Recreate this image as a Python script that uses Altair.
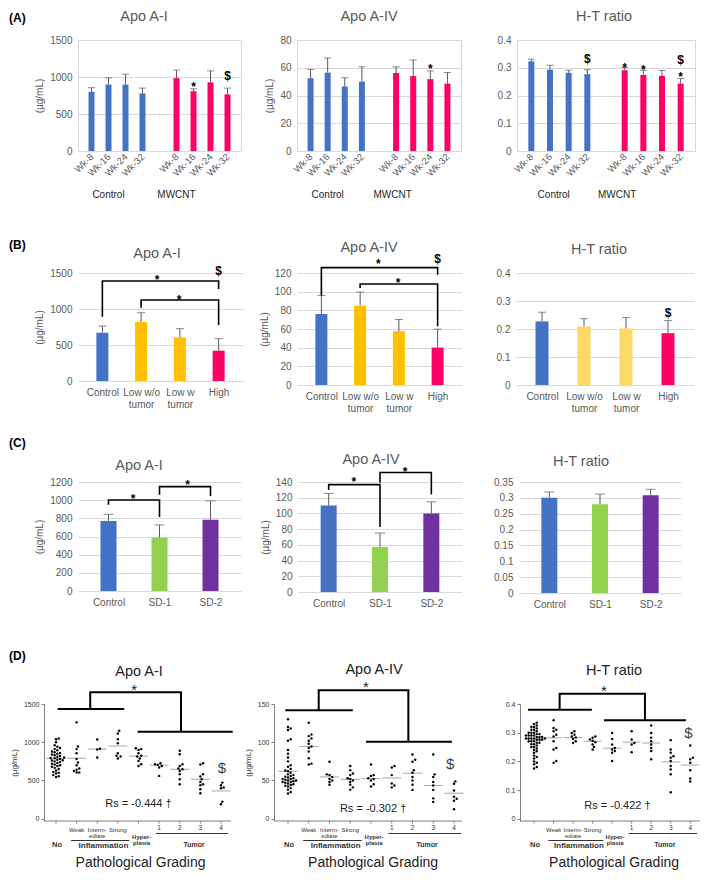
import json
import altair as alt
import pandas as pd

FONT = "Liberation Sans"
AX = "#595959"
GRID = "#d9d9d9"
ERR = "#595959"
DARK = "#262626"
BLUE, PINK, ORANGE, LYEL, GREEN, PURPLE = "#4472C4", "#FF0066", "#FFC000", "#FFD966", "#92D050", "#7030A0"

# ---------------- (A) time course ----------------
weeks = ["Wk-8", "Wk-16", "Wk-24", "Wk-32"]
a_groups = ["Control", "MWCNT"]
a1_ctrl = [800, 898, 898, 778]
a1_ctrl_up = [855, 988, 1038, 850]
a1_mw = [985, 808, 928, 765]
a1_mw_up = [1093, 840, 1083, 850]
a4_ctrl = [52.5, 56.5, 46.5, 50.0]
a4_ctrl_up = [58.8, 67.0, 52.8, 60.7]
a4_mw = [56.2, 54.0, 51.8, 48.6]
a4_mw_up = [60.6, 65.6, 57.7, 56.6]
aht_ctrl = [0.323, 0.293, 0.282, 0.277]
aht_ctrl_up = [0.331, 0.309, 0.291, 0.293]
aht_mw = [0.291, 0.274, 0.271, 0.243]
aht_mw_up = [0.301, 0.291, 0.290, 0.261]
a1_marks = [("MWCNT", 1, "*", 905), ("MWCNT", 3, "$", 1012)]
a4_marks = [("MWCNT", 2, "*", 61.5)]
aht_marks = [("Control", 3, "$", 0.330), ("MWCNT", 0, "*", 0.311), ("MWCNT", 1, "*", 0.304),
             ("MWCNT", 3, "*", 0.279), ("MWCNT", 3, "$", 0.327)]

# ---------------- (B) dose groups ----------------
b_cats = [["Control"], ["Low w/o", "tumor"], ["Low w", "tumor"], ["High"]]
b_a1 = [671, 819, 606, 421]
b_a1_up = [764, 949, 727, 588]
b_a4 = [76.0, 85.0, 57.7, 40.1]
b_a4_up = [96.0, 99.6, 70.2, 59.8]
b_ht = [0.227, 0.209, 0.202, 0.185]
b_ht_up = [0.260, 0.237, 0.241, 0.230]
b_a1_br = [(0, 3, 893, 1389, 1278), (1, 3, 1019, 1125, 778)]
b_a1_marks = [(1.41, "*", 1449), (1.98, "*", 1171), (3, "$", 1532)]
b_a4_br = [(0, 3, 96, 125.8, 118), (1, 3, 104, 108.2, 63)]
b_a4_marks = [(1.47, "*", 132.6), (1.98, "*", 113), (3, "$", 135.5)]
b_ht_marks = [(3, "$", 0.258)]

# ---------------- (C) SD groups ----------------
c_cats = [["Control"], ["SD-1"], ["SD-2"]]
c_a1 = [771, 587, 785]
c_a1_up = [844, 727, 991]
c_a4 = [110.0, 57.2, 99.9]
c_a4_up = [125.5, 75.1, 114.8]
c_ht = [0.3006, 0.2795, 0.308]
c_ht_up = [0.3186, 0.312, 0.327]
c_a1_br = [(0, 1, 950, 1002, 815), (1, 2, 1060, 1149, 1046)]
c_a1_marks = [(0.48, "*", 1046), (1.55, "*", 1200)]
c_a4_br = [(0, 1, 129.7, 136.6, 82.8), (1, 2, 139, 152, 124.5)]
c_a4_marks = [(0.49, "*", 144.3), (1.49, "*", 157)]

# ---------------- (D) pathological grading ----------------
d_cats = ["No", "Weak", "Intermediate", "Strong", "Hyperplasia", "Tumor 1", "Tumor 2", "Tumor 3", "Tumor 4"]
d_a1 = [
    [1050, 1040, 1000, 960, 940, 925, 910, 895, 880, 870, 860, 850, 840, 830, 820, 810, 800, 795, 790, 780,
     770, 765, 760, 750, 740, 730, 720, 710, 700, 690, 680, 665, 650, 630, 610, 590, 570, 555, 545, 600],
    [1260, 945, 910, 857, 780, 735, 700, 656, 640, 625, 603, 603],
    [1036, 915, 905, 800],
    [1150, 1115, 1040, 988, 857, 822, 813, 787],
    [922, 910, 900, 857, 822, 813, 787, 756, 712, 690],
    [726, 712, 704, 690, 669, 560],
    [888, 844, 712, 690, 656, 647, 625, 581, 516, 450],
    [726, 708, 581, 551, 516, 481, 450, 437, 385, 332],
    [472, 437, 407, 398, 223, 188],
]
d_a1_med = [787, 790, 910, 950, 818, 700, 647, 516, 363]
d_a4 = [
    [130, 120, 118, 116, 104, 102, 90, 85, 80, 75, 70, 68, 65, 63, 62, 60, 58, 57, 56, 55, 54, 53, 52, 52,
     51, 50, 50, 49, 48, 48, 47, 46, 45, 44, 43, 42, 40, 38, 35, 33],
    [125.6, 110, 108, 105, 102, 98, 94.5, 92.6, 88, 79, 72, 71],
    [74.6, 58, 57, 54.6, 52, 50, 48, 44.4],
    [69, 63.5, 59, 57, 53, 52, 50, 48, 44.4, 41, 38],
    [71, 57, 56, 53, 52, 50, 45, 42],
    [69, 67, 57, 46, 43.5, 41],
    [84, 77, 74.6, 63.5, 60, 54.6, 50, 44.4, 37.7],
    [84, 58, 54.6, 48, 43.5, 37.7, 26.6, 22],
    [48.8, 45.7, 36.8, 28.8, 26, 23.5, 12.4],
]
d_a4_med = [62, 94.5, 54.6, 51.5, 52.4, 53.3, 59.5, 43.5, 33.3]
d_ht = [
    [0.335, 0.33, 0.325, 0.32, 0.32, 0.315, 0.31, 0.31, 0.305, 0.30, 0.30, 0.30, 0.295, 0.295, 0.29, 0.29,
     0.29, 0.29, 0.285, 0.285, 0.285, 0.28, 0.28, 0.28, 0.28, 0.28, 0.275, 0.275, 0.275, 0.27, 0.27, 0.27,
     0.265, 0.265, 0.26, 0.26, 0.255, 0.25, 0.25, 0.245, 0.24, 0.235, 0.23, 0.22, 0.215, 0.21, 0.20, 0.195,
     0.19, 0.18, 0.175],
    [0.343, 0.316, 0.31, 0.305, 0.293, 0.287, 0.27, 0.247, 0.241, 0.201, 0.195],
    [0.305, 0.299, 0.293, 0.287, 0.283, 0.278, 0.27, 0.264],
    [0.287, 0.282, 0.276, 0.272, 0.267, 0.259, 0.25, 0.241],
    [0.299, 0.278, 0.259, 0.247, 0.241, 0.236, 0.23, 0.201],
    [0.305, 0.276, 0.264, 0.259, 0.232],
    [0.325, 0.299, 0.282, 0.27, 0.259, 0.247, 0.236, 0.207],
    [0.274, 0.241, 0.23, 0.218, 0.213, 0.201, 0.184, 0.172, 0.155, 0.092],
    [0.255, 0.213, 0.207, 0.195, 0.169, 0.14, 0.13],
]
d_ht_med = [0.279, 0.282, 0.283, 0.27, 0.246, 0.267, 0.264, 0.198, 0.187]
d_a1_lines = [(0.08, 3.31, 1434), (3.96, 8.57, 1138)]
d_a1_conn = (1.66, 6.06, 1434, 1653, 1138)
d_a4_lines = [(-0.13, 3.12, 141.8), (3.76, 7.9, 100.7)]
d_a4_conn = (1.48, 5.8, 141.8, 167.9, 100.7)
d_ht_lines = [(-0.31, 2.96, 0.380), (3.58, 7.78, 0.343)]
d_ht_conn = (1.31, 5.68, 0.380, 0.436, 0.343)
d_rs = ["Rs = -0.444 \u2020", "Rs = -0.302 \u2020", "Rs = -0.422 \u2020"]

# D category label layout (text, x index, y px below plot top, size, weight)
D_LABELS = [("Weak", 1, 128, 6, "normal"), ("Interm-", 2, 128, 6, "normal"), ("ediate", 2, 134, 6, "normal"),
            ("Strong", 3, 128, 6, "normal"), ("1", 5, 126, 6.5, "normal"), ("2", 6, 126, 6.5, "normal"),
            ("3", 7, 126, 6.5, "normal"), ("4", 8, 126, 6.5, "normal"), ("Hyper-", 4.15, 135, 6, "bold"),
            ("plasia", 4.15, 140.5, 6, "bold"), ("No", 0.05, 143, 7.5, "bold"),
            ("Inflammation", 2.3, 144, 8, "bold"), ("Tumor", 6.7, 143, 7, "bold")]
D_ULINES = [(0.73, 3.55, 136.5), (4.85, 8.35, 129.5)]
UG = "(\u00b5g/mL)"
NUMFMT = "~r"


# ---------------- helpers ----------------
def one(t):
    return pd.DataFrame({"t": [t]})


def spacers(top, bottom):
    s1 = alt.Chart(one(".")).mark_text(opacity=0, baseline="top", fontSize=4).encode(
        text="t:N", x=alt.value(0), y=alt.value(top))
    s2 = alt.Chart(one(".")).mark_text(opacity=0, baseline="bottom", fontSize=4).encode(
        text="t:N", x=alt.value(0), y=alt.value(bottom))
    return [s1, s2]


def panel_label(txt, y):
    return alt.Chart(one(txt)).mark_text(align="left", baseline="alphabetic", fontSize=12,
                                         fontWeight="bold", color="black").encode(
        text="t:N", x=alt.value(-69), y=alt.value(y))


def title_text(txt, x, y, color=AX):
    return alt.Chart(one(txt)).mark_text(align="center", baseline="alphabetic", fontSize=14.5,
                                         color=color).encode(
        text="t:N", x=alt.value(x), y=alt.value(y))


class Enc:
    def __init__(self, xdom, ydom, xax, yax):
        self.xs = alt.Scale(domain=xdom, nice=False, zero=False)
        self.ys = alt.Scale(domain=ydom, nice=False, zero=False)
        self.xax, self.yax = xax, yax

    def X(self, f):
        return alt.X(f + ":Q", scale=self.xs, axis=self.xax)

    def Y(self, f):
        return alt.Y(f + ":Q", scale=self.ys, axis=self.yax)


def sym_layers(E, marks, size=12, weight="bold", color="black"):
    out = []
    if not marks:
        return out
    df = pd.DataFrame(marks, columns=["x", "t", "y"])
    for sym, dy in (("*", 3), ("$", 0)):
        sub = df[df.t == sym]
        if len(sub):
            out.append(alt.Chart(sub).mark_text(fontSize=size, fontWeight=weight, color=color,
                                                baseline="middle", dy=dy).encode(
                x=E.X("x"), y=E.Y("y"), text="t:N"))
    return out


def bracket_layer(E, brs, width=1.6):
    rows = []
    for k, (i0, i1, l0, t, l1) in enumerate(brs):
        rows += [(k, 0, i0, l0), (k, 1, i0, t), (k, 2, i1, t), (k, 3, i1, l1)]
    df = pd.DataFrame(rows, columns=["b", "o", "x", "y"])
    return alt.Chart(df).mark_line(color="black", strokeWidth=width).encode(
        x=E.X("x"), y=E.Y("y"), detail="b:N", order="o:Q")


def bar_panel(xs, vals, ups, colors, xdom, label_arr, ydom, yticks, ytitle, w, h, title, tx, ty,
              bar, cap, angle=0, lpad=6, lsize=10, frame=False, marks=(), brackets=(), extra=()):
    df = pd.DataFrame({"x": xs, "v": vals, "u": ups, "c": colors})
    xvals = [i for i, l in enumerate(label_arr) if l]
    akw = dict(labelAlign="right", labelBaseline="middle") if angle else {}
    xax = alt.Axis(values=xvals, labelExpr=json.dumps(label_arr) + "[datum.value]", grid=False,
                   domain=False, ticks=False, labelFontSize=lsize, labelColor=AX, labelPadding=lpad,
                   labelAngle=angle, labelOverlap=False, labelFlush=False, labelLineHeight=12,
                   title=None, **akw)
    yax = alt.Axis(values=yticks, format=NUMFMT, grid=True, gridColor=GRID, gridWidth=1, domain=False,
                   ticks=False, labelFontSize=10, labelColor=AX, labelPadding=6, title=ytitle,
                   titleFontSize=10, titleFontWeight="normal", titleColor=AX, titlePadding=5,
                   labelOverlap=False)
    E = Enc(xdom, ydom, xax, yax)
    base = alt.Chart(df)
    bars = base.mark_bar(size=bar).encode(x=E.X("x"), y=E.Y("v"), color=alt.Color("c:N", scale=None))
    err = base.mark_rule(color=ERR, strokeWidth=1).encode(x=E.X("x"), y=E.Y("v"), y2="u:Q")
    caps = base.mark_tick(orient="horizontal", size=cap, thickness=1, color=ERR).encode(
        x=E.X("x"), y=E.Y("u"))
    layers = [bars, err, caps]
    if brackets:
        layers.append(bracket_layer(E, brackets))
    layers += sym_layers(E, list(marks))
    layers.append(title_text(title, tx, ty))
    layers += [f(E) for f in extra]
    props = dict(width=w, height=h)
    if frame:
        props["view"] = alt.ViewBackground(stroke=GRID, strokeWidth=1)
    return alt.layer(*layers).properties(**props)


def swarm(vals, kx, ky, d=2.7):
    order = sorted(range(len(vals)), key=lambda i: vals[i])
    placed = []
    offs = [0.0] * len(vals)
    cands = [0.0] + [s * j * d * 0.5 for j in range(1, 60) for s in (1, -1)]
    for i in order:
        py = vals[i] * ky
        for ox in cands:
            if all((ox - a) ** 2 + (py - b) ** 2 >= d * d for a, b in placed):
                break
        placed.append((ox, py))
        offs[i] = ox / kx
    return offs


def dot_panel(groups, meds, xdom, xline0, ydom, yticks, ytitle, w, h, title, tx, ty, axoff,
              lines, conn, star, dollar, rs, extra=()):
    kx = w / (xdom[1] - xdom[0])
    ky = h / (ydom[1] - ydom[0])
    rows = []
    for gi, vals in enumerate(groups):
        offs = swarm(vals, kx, ky)
        for v, o in zip(vals, offs):
            rows.append((gi + o, v))
    dots_df = pd.DataFrame(rows, columns=["x", "v"])
    yax = alt.Axis(values=yticks, format=NUMFMT, grid=False, domain=True, domainColor="#7f7f7f",
                   ticks=True, tickColor="#7f7f7f", tickSize=3, labelFontSize=7, labelColor="#333333",
                   labelPadding=2, title=ytitle, titleFontSize=8, titleFontWeight="normal",
                   titleColor="#333333", titlePadding=5, offset=axoff, labelOverlap=False)
    E = Enc(xdom, ydom, None, yax)
    dots = alt.Chart(dots_df).mark_circle(size=6, color="black", opacity=1).encode(
        x=E.X("x"), y=E.Y("v"))
    med_df = pd.DataFrame({"x1": [i - 0.46 for i in range(len(meds))],
                           "x2": [i + 0.46 for i in range(len(meds))], "m": meds})
    med = alt.Chart(med_df).mark_rule(color="#a6a6a6", strokeWidth=1).encode(
        x=E.X("x1"), x2="x2:Q", y=E.Y("m"))
    hl = alt.Chart(pd.DataFrame(lines, columns=["x1", "x2", "y"])).mark_rule(
        color="black", strokeWidth=2).encode(x=E.X("x1"), x2="x2:Q", y=E.Y("y"))
    xl, xr, yl, yt, yr = conn
    cdf = pd.DataFrame({"o": [0, 1, 2, 3], "x": [xl, xl, xr, xr], "y": [yl, yt, yt, yr]})
    cl = alt.Chart(cdf).mark_line(color="black", strokeWidth=2).encode(
        x=E.X("x"), y=E.Y("y"), order="o:Q")
    st = alt.Chart(pd.DataFrame({"x": [star[0]], "y": [star[1]], "t": ["*"]})).mark_text(
        fontSize=15, color="#222222", baseline="middle", dy=3).encode(
        x=E.X("x"), y=E.Y("y"), text="t:N")
    dl = alt.Chart(pd.DataFrame({"x": [dollar[0]], "y": [dollar[1]], "t": ["$"]})).mark_text(
        fontSize=15, color="#404040", baseline="middle").encode(
        x=E.X("x"), y=E.Y("y"), text="t:N")
    rt = alt.Chart(pd.DataFrame({"x": [rs[0]], "y": [rs[1]], "t": [rs[2]]})).mark_text(
        fontSize=11, color="#222222", baseline="middle").encode(
        x=E.X("x"), y=E.Y("y"), text="t:N")
    xaxis = alt.Chart(pd.DataFrame({"x1": [xline0], "x2": [xdom[1]]})).mark_rule(
        color="#7f7f7f", strokeWidth=1).encode(x=E.X("x1"), x2="x2:Q", y=alt.value(h))
    xt = alt.Chart(pd.DataFrame({"x": list(range(len(groups)))})).mark_rule(
        color="#7f7f7f", strokeWidth=1).encode(x=E.X("x"), y=alt.value(h), y2=alt.value(h + 2.5))
    lab_layers = []
    for txt, xi, yy, fs, fw in D_LABELS:
        lab_layers.append(alt.Chart(pd.DataFrame({"x": [xi], "t": [txt]})).mark_text(
            fontSize=fs, fontWeight=fw, color="#333333", baseline="alphabetic").encode(
            x=E.X("x"), y=alt.value(yy), text="t:N"))
    ul_layers = []
    for x1, x2, yy in D_ULINES:
        ul_layers.append(alt.Chart(pd.DataFrame({"x1": [x1], "x2": [x2]})).mark_rule(
            color="#333333", strokeWidth=1).encode(x=E.X("x1"), x2="x2:Q", y=alt.value(yy)))
    pg = alt.Chart(pd.DataFrame({"x": [4.1], "t": ["Pathological Grading"]})).mark_text(
        fontSize=14, color="#222222", baseline="alphabetic").encode(
        x=E.X("x"), y=alt.value(163), text="t:N")
    layers = [med, dots, hl, cl, st, dl, rt, xaxis, xt] + lab_layers + ul_layers + [pg]
    layers.append(title_text(title, tx, ty, color="#222222"))
    layers += [f(E) for f in extra]
    return alt.layer(*layers).properties(width=w, height=h)


def const(ch):
    return lambda E: ch


# ---------------- Row A ----------------
a_labels = weeks + [""] + weeks
a_x = [0, 1, 2, 3, 5, 6, 7, 8]
a_col = [BLUE] * 4 + [PINK] * 4


def a_marks(m):
    return [(w + (0 if g == "Control" else 5), s, y) for g, w, s, y in m]


def group_text(xc, xm):
    def f(E):
        return alt.Chart(pd.DataFrame({"x": [xc, xm], "t": a_groups})).mark_text(
            fontSize=10, color=DARK, baseline="alphabetic").encode(
            x=E.X("x"), y=alt.value(158), text="t:N")
    return f


A1 = bar_panel(a_x, a1_ctrl + a1_mw, a1_ctrl_up + a1_mw_up, a_col, [-0.5, 8.5], a_labels,
               [0, 1500], [0, 500, 1000, 1500], UG, 163, 111, "Apo A-I", 66, -19, 6, 7, angle=-45,
               lpad=4, lsize=9.5, frame=True, marks=a_marks(a1_marks),
               extra=[group_text(1, 5), const(panel_label("(A)", -18))] +
               [const(s) for s in spacers(-31, 179)])
A2 = bar_panel(a_x, a4_ctrl + a4_mw, a4_ctrl_up + a4_mw_up, a_col, [-0.5, 8.5], a_labels,
               [0, 80], [0, 20, 40, 60, 80], UG, 164, 111, "Apo A-IV", 72, -19, 6, 7, angle=-45,
               lpad=4, lsize=9.5, frame=True, marks=a_marks(a4_marks), extra=[group_text(1, 4.8)])
A3 = bar_panel(a_x, aht_ctrl + aht_mw, aht_ctrl_up + aht_mw_up, a_col, [-0.5, 8.5], a_labels,
               [0, 0.4], [0, 0.1, 0.2, 0.3, 0.4], None, 178, 111, "H-T ratio", 87, -19, 6, 7,
               angle=-45, lpad=4, lsize=9.5, frame=True, marks=a_marks(aht_marks),
               extra=[group_text(1.2, 4.6)])
rowA = alt.hconcat(A1, A2, A3, spacing=56, bounds="flush")

# ---------------- Row B ----------------
b_x = [0, 1, 2, 3]
B1 = bar_panel(b_x, b_a1, b_a1_up, [BLUE, ORANGE, ORANGE, PINK], [-0.5, 3.5], b_cats,
               [0, 1500], [0, 500, 1000, 1500], UG, 165, 108, "Apo A-I", 79, -15, 12, 8,
               brackets=b_a1_br, marks=b_a1_marks,
               extra=[const(panel_label("(B)", -24))] + [const(s) for s in spacers(-53, 149)])
B2 = bar_panel(b_x, b_a4, b_a4_up, [BLUE, ORANGE, ORANGE, PINK], [-0.5, 3.5], b_cats,
               [0, 120], [0, 20, 40, 60, 80, 100, 120], UG, 165, 112, "Apo A-IV", 72, -21, 12, 8,
               brackets=b_a4_br, marks=b_a4_marks)
B3 = bar_panel(b_x, b_ht, b_ht_up, [BLUE, LYEL, LYEL, PINK], [-0.5, 3.5], b_cats,
               [0, 0.4], [0, 0.1, 0.2, 0.3, 0.4], None, 178, 112, "H-T ratio", 83, -19, 13, 8,
               marks=b_ht_marks)
rowB = alt.hconcat(B1, B2, B3, spacing=54, bounds="flush")

# ---------------- Row C ----------------
c_x = [0, 1, 2]
C1 = bar_panel(c_x, c_a1, c_a1_up, [BLUE, GREEN, PURPLE], [-0.5, 2.5], c_cats,
               [0, 1200], [0, 200, 400, 600, 800, 1000, 1200], UG, 163, 109, "Apo A-I", 61, -12, 16, 10,
               brackets=c_a1_br, marks=c_a1_marks,
               extra=[const(panel_label("(C)", -35))] + [const(s) for s in spacers(-60, 145)])
C2 = bar_panel(c_x, c_a4, c_a4_up, [BLUE, GREEN, PURPLE], [-0.5, 2.5], c_cats,
               [0, 140], [0, 20, 40, 60, 80, 100, 120, 140], UG, 164, 110, "Apo A-IV", 73, -18, 16, 10,
               brackets=c_a4_br, marks=c_a4_marks)
C3 = bar_panel(c_x, c_ht, c_ht_up, [BLUE, GREEN, PURPLE], [-0.5, 2.5], c_cats,
               [0, 0.35], [0, 0.05, 0.1, 0.15, 0.2, 0.25, 0.3, 0.35], None, 162, 111, "H-T ratio",
               62, -16, 16, 10)
rowC = alt.hconcat(C1, C2, C3, spacing=57, bounds="flush")

# ---------------- Row D ----------------
D1 = dot_panel(d_a1, d_a1_med, [1.067, 8.485], -0.58, [-30, 1500], [0, 500, 1000, 1500], UG,
               153, 117, "Apo A-I", 61, -28, 34, d_a1_lines, d_a1_conn, (3.79, 1722), (8.05, 667),
               (4.0, 196, d_rs[0]),
               extra=[const(panel_label("(D)", -44))] + [const(s) for s in spacers(-77, 166)])
D2 = dot_panel(d_a4, d_a4_med, [0.048, 8.386], -0.675, [-3, 150], [0, 50, 100, 150], UG,
               173, 117, "Apo A-IV", 85, -30, 15, d_a4_lines, d_a4_conn, (3.76, 175.8), (7.82, 71.1),
               (4.1, 12.3, d_rs[1]))
D3 = dot_panel(d_ht, d_ht_med, [-0.72, 8.5], -0.72, [-0.008, 0.4], [0, 0.1, 0.2, 0.3, 0.4], None,
               180, 117, "H-T ratio", 94, -29, 0, d_ht_lines, d_ht_conn, (3.58, 0.457), (7.91, 0.299),
               (4.27, 0.044, d_rs[2]))
rowD = alt.hconcat(D1, D2, D3, spacing=58, bounds="flush")

chart = alt.vconcat(rowA, rowB, rowC, rowD, spacing=0).properties(padding=0).configure(
    font=FONT).configure_view(stroke=None)

chart.save("out.html", embed_options={"renderer": "svg", "actions": False})
